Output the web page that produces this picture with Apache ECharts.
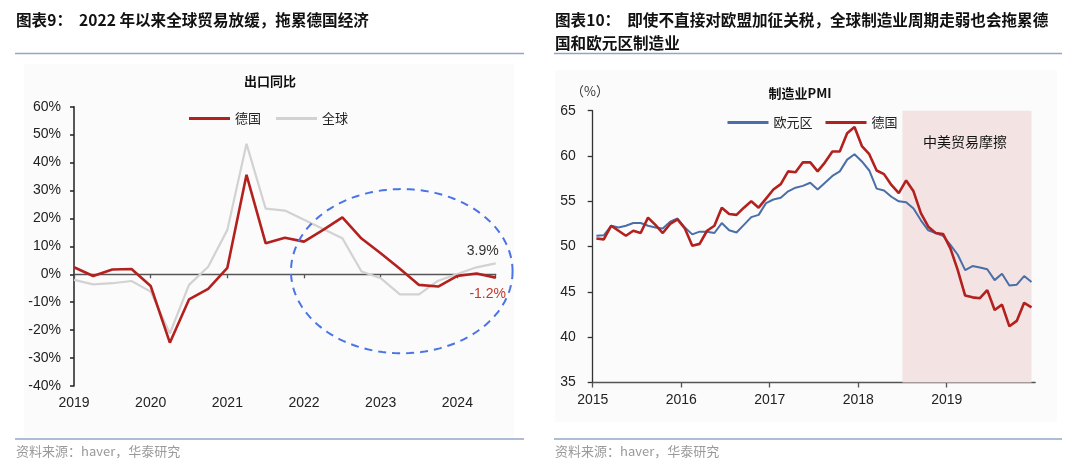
<!DOCTYPE html>
<html><head><meta charset="utf-8">
<script src="https://cdn.jsdelivr.net/npm/echarts@6/dist/echarts.min.js"></script>
<style>html,body{margin:0;padding:0;background:#fff}#c{width:1080px;height:467px}</style>
</head><body><div id="c"></div>
<script>
// ---------- Left chart: export YoY (quarterly, 2019Q1 - 2024Q3) ----------
const exportQuarters = ['2019Q1','2019Q2','2019Q3','2019Q4','2020Q1','2020Q2','2020Q3','2020Q4',
  '2021Q1','2021Q2','2021Q3','2021Q4','2022Q1','2022Q2','2022Q3','2022Q4',
  '2023Q1','2023Q2','2023Q3','2023Q4','2024Q1','2024Q2','2024Q3'];
const germanyExports = [2.5,-0.6,1.7,1.9,-4.2,-24.5,-9.0,-5.2,2.3,35.6,11.1,13.1,11.7,15.9,20.4,12.8,7.5,2.0,-3.8,-4.4,-0.6,0.3,-1.2];
const globalExports  = [-2.0,-3.6,-3.2,-2.4,-6.2,-21.2,-3.8,2.7,15.9,46.7,23.5,22.8,19.5,16.2,12.9,1.0,-1.4,-7.2,-7.2,-2.3,0.1,2.5,3.9];
const exportYearLabels = ['2019','2020','2021','2022','2023','2024'];
const exportYTicks = [-40,-30,-20,-10,0,10,20,30,40,50,60];

// ---------- Right chart: manufacturing PMI (monthly, 2015-01 - 2019-12) ----------
const pmiYearLabels = ['2015','2016','2017','2018','2019'];
const euroPMI = [51.2,51.25,52.3,52.1,52.3,52.6,52.6,52.3,52.1,52.0,52.75,53.1,
  52.1,51.35,51.65,51.65,51.5,52.6,51.8,51.55,52.4,53.25,53.5,54.8,
  55.2,55.4,56.1,56.5,56.7,57.05,56.3,57.05,57.8,58.3,59.6,60.2,
  59.4,58.4,56.4,56.2,55.5,55.0,54.9,54.2,52.9,51.8,51.5,51.2,
  50.2,49.1,47.4,47.85,47.7,47.5,46.3,47.0,45.7,45.8,46.75,46.1];
const germanyPMI = [50.9,50.8,52.3,51.75,51.2,51.75,51.5,53.2,52.4,51.5,52.5,53.0,
  52.0,50.1,50.3,51.75,52.3,54.3,53.6,53.5,54.3,55.0,54.3,55.3,
  56.3,56.9,58.3,58.2,59.3,59.3,58.3,59.3,60.5,60.5,62.5,63.2,
  61.1,60.2,58.4,58.0,56.8,55.9,57.3,56.1,53.7,52.2,51.5,51.4,
  49.8,47.4,44.6,44.4,44.3,45.2,43.0,43.6,41.2,41.8,43.8,43.3];
const tradeFrictionStart = 42;   // 2018-07 (month index)
const tradeFrictionEnd = 59.5;   // end of 2019-12 data

const FONT = "'Liberation Sans','Noto Sans CJK SC',sans-serif";
const CJK = "'Noto Sans CJK SC','Liberation Sans',sans-serif";

const chart = echarts.init(document.getElementById('c'), null, {renderer:'canvas'});

function txt(x, y, text, font, fill, align) {
  return {type:'text', x, y, z: 10, silent: true,
    style:{text, font, fill, align: align || 'left', verticalAlign:'middle'}};
}
function hline(x1, x2, y, color, w) {
  return {type:'line', silent:true, z: 10, shape:{x1, y1:y, x2, y2:y}, style:{stroke: color, lineWidth: w}};
}

const graphics = [
  {type:'rect', z:-10, silent:true, shape:{x:24, y:64, width:490, height:373}, style:{fill:'#FBFBFB'}},
  {type:'rect', z:-10, silent:true, shape:{x:555, y:70, width:502, height:352}, style:{fill:'#FBFBFB'}},
  txt(16, 20, '图表9：  2022 年以来全球贸易放缓，拖累德国经济', 'bold 15.6px ' + CJK, '#111'),
  txt(555, 20, '图表10：  即使不直接对欧盟加征关税，全球制造业周期走弱也会拖累德', 'bold 15.6px ' + CJK, '#111'),
  txt(555, 43, '国和欧元区制造业', 'bold 15.6px ' + CJK, '#111'),
  hline(15, 524, 53.5, '#93A6C6', 1.5),
  hline(554, 1062, 53.5, '#93A6C6', 1.5),
  hline(15, 524, 439, '#93A6C6', 1.5),
  hline(554, 1062, 439, '#93A6C6', 1.5),
  txt(16, 451, '资料来源：haver，华泰研究', '13px ' + CJK, '#9A9A9A'),
  txt(555, 451, '资料来源：haver，华泰研究', '13px ' + CJK, '#9A9A9A'),
  txt(270, 81, '出口同比', 'bold 13px ' + CJK, '#111', 'center'),
  txt(800, 93, '制造业PMI', 'bold 13px ' + CJK, '#111', 'center'),
  txt(590, 91, '（%）', '13px ' + CJK, '#333', 'center'),
  txt(965, 142, '中美贸易摩擦', '14px ' + CJK, '#111', 'center')
];

const option = {
  backgroundColor: '#ffffff',
  animation: false,
  textStyle: {fontFamily: FONT},
  grid: [
    {left: 74, top: 106.7, width: 421.7, height: 279.3, containLabel: false},
    {left: 592.7, top: 110.7, width: 442.5, height: 271.8, containLabel: false}
  ],
  legend: [
    {data: ['德国','全球'], left: 184, top: 107, itemWidth: 41, itemHeight: 3, icon: 'rect', itemGap: 15,
     selectedMode: false, textStyle: {fontSize: 13, fontFamily: CJK, color: '#222'}},
    {data: ['欧元区','德国'], left: 722.5, top: 111, itemWidth: 41, itemHeight: 3, icon: 'rect', itemGap: 13,
     selectedMode: false, textStyle: {fontSize: 13, fontFamily: CJK, color: '#222'}}
  ],
  xAxis: [
    {gridIndex: 0, type: 'value', min: 0, max: 22, interval: 4,
     axisLine: {show: true, onZero: true, lineStyle: {color: '#555', width: 1.3}},
     axisTick: {show: true, length: 4, lineStyle: {color: '#555', width: 1.3}},
     axisLabel: {show: false}, splitLine: {show: false}},
    {gridIndex: 0, type: 'value', min: 0, max: 22, interval: 4, position: 'bottom',
     axisLine: {show: false, onZero: false}, axisTick: {show: false}, splitLine: {show: false},
     axisLabel: {show: true, margin: 10, fontSize: 14, color: '#222', fontFamily: FONT, showMaxLabel: false,
       formatter: v => (v % 4 === 0 && exportYearLabels[v / 4]) ? exportYearLabels[v / 4] : ''}},
    {gridIndex: 1, type: 'value', min: 0, max: 60, interval: 12,
     axisLine: {show: true, onZero: false, lineStyle: {color: '#555', width: 1.3}},
     axisTick: {show: true, length: 5, lineStyle: {color: '#555', width: 1.3}},
     splitLine: {show: false},
     axisLabel: {show: true, margin: 11, fontSize: 14, color: '#222', fontFamily: FONT, showMaxLabel: false,
       formatter: v => (v % 12 === 0 && pmiYearLabels[v / 12]) ? pmiYearLabels[v / 12] : ''}}
  ],
  yAxis: [
    {gridIndex: 0, type: 'value', min: exportYTicks[0], max: exportYTicks[exportYTicks.length - 1], interval: 10,
     axisLine: {show: true, lineStyle: {color: '#222', width: 1.5}},
     axisTick: {show: true, length: 4, lineStyle: {color: '#222', width: 1.5}},
     splitLine: {show: false},
     axisLabel: {margin: 13, fontSize: 14, color: '#222', fontFamily: FONT, formatter: '{value}%'}},
    {gridIndex: 1, type: 'value', min: 35, max: 65, interval: 5,
     axisLine: {show: true, lineStyle: {color: '#333', width: 1.3}},
     axisTick: {show: true, length: 5, lineStyle: {color: '#333', width: 1.3}},
     splitLine: {show: false},
     axisLabel: {margin: 17, fontSize: 14, color: '#222', fontFamily: FONT}}
  ],
  series: [
    {name: '全球', type: 'line', xAxisIndex: 0, yAxisIndex: 0, showSymbol: false, symbol: 'none',
     lineStyle: {color: '#D2D2D2', width: 2.2}, itemStyle: {color: '#D2D2D2'}, z: 2,
     data: globalExports.map((v, i) => [i, v])},
    {name: '德国', type: 'line', xAxisIndex: 0, yAxisIndex: 0, showSymbol: false, symbol: 'none',
     lineStyle: {color: '#B3211E', width: 2.6}, itemStyle: {color: '#B3211E'}, z: 3,
     data: germanyExports.map((v, i) => [i, v])},
    {name: '欧元区', type: 'line', xAxisIndex: 2, yAxisIndex: 1, showSymbol: false, symbol: 'none', clip: false,
     lineStyle: {color: '#4A6FA8', width: 2}, itemStyle: {color: '#4A6FA8'}, z: 3,
     data: euroPMI.map((v, i) => [i + 0.5, v]),
     markArea: {silent: true, itemStyle: {color: '#F3E3E3'}, z: 1,
       data: [[{xAxis: tradeFrictionStart, yAxis: 35}, {xAxis: tradeFrictionEnd, yAxis: 65.45}]]}},
    {name: '德国', type: 'line', xAxisIndex: 2, yAxisIndex: 1, showSymbol: false, symbol: 'none',
     lineStyle: {color: '#B3211E', width: 2.6}, itemStyle: {color: '#B3211E'}, z: 4,
     data: germanyPMI.map((v, i) => [i + 0.5, v])}
  ],
  graphic: graphics
};

chart.setOption(option);

// dashed ellipse annotation around 2022-2024 (defined in data units of the left chart)
const ellipseCenter = [17.1, 1.1];
const ellipseRadius = [5.78, 29.4];
const c0 = chart.convertToPixel({gridIndex: 0}, ellipseCenter);
const cx1 = chart.convertToPixel({gridIndex: 0}, [ellipseCenter[0] + ellipseRadius[0], ellipseCenter[1] + ellipseRadius[1]]);
const rx = Math.abs(cx1[0] - c0[0]), ry = Math.abs(cx1[1] - c0[1]);
const pts = [];
for (let k = 0; k < 180; k++) {
  const t = k / 180 * Math.PI * 2;
  pts.push([c0[0] + rx * Math.cos(t), c0[1] + ry * Math.sin(t)]);
}
// end-value labels, placed next to the last point of each series
const nL = globalExports.length - 1;
const gLast = chart.convertToPixel({gridIndex: 0}, [nL, globalExports[nL]]);
const rLast = chart.convertToPixel({gridIndex: 0}, [nL, germanyExports[nL]]);
const endLabels = [
  txt(gLast[0] - 13, gLast[1] - 12, globalExports[nL].toFixed(1) + '%', '14px ' + FONT, '#333', 'center'),
  txt(rLast[0] - 8, rLast[1] + 17, germanyExports[nL].toFixed(1) + '%', '14px ' + FONT, '#C0392B', 'center')
];
option.graphic = graphics.concat(endLabels, [{type: 'polygon', z: 20, silent: true, shape: {points: pts},
  style: {fill: 'none', stroke: '#4A74E6', lineWidth: 2, lineDash: [8, 6]}}]);
chart.setOption(option, true);
</script>
</body></html>
